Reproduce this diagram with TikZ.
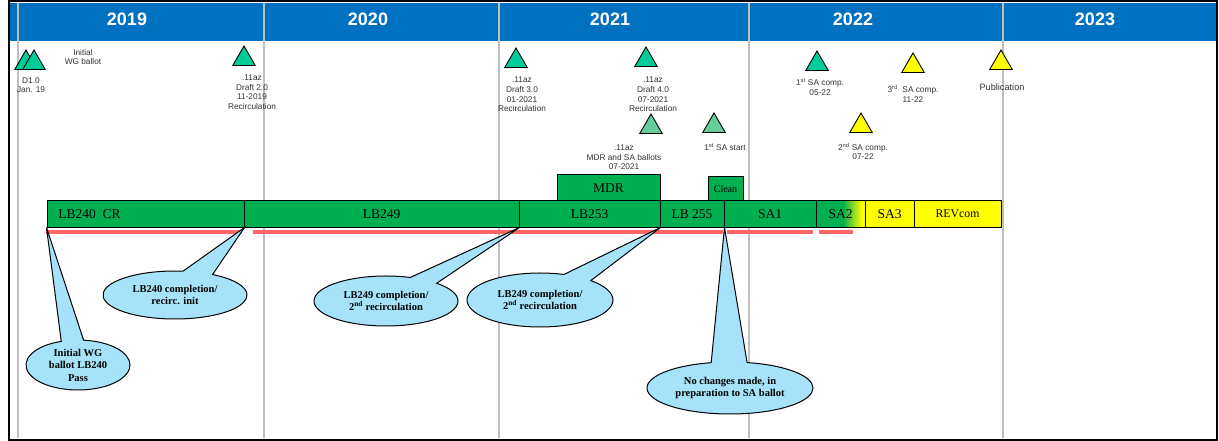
\documentclass[tikz,border=0pt]{standalone}
\usepackage{fontspec}
\setmainfont{Liberation Serif}
\newfontfamily\arialfont{Liberation Sans}
\usepackage{tikz}
\usetikzlibrary{shapes.geometric,shapes.callouts}
\definecolor{hdrblue}{HTML}{0070C0}
\definecolor{gridgray}{HTML}{BFBFBF}
\definecolor{barGreen}{HTML}{00B050}
\definecolor{msTeal}{HTML}{00CC99}
\definecolor{msLight}{HTML}{66CC99}
\definecolor{msYellow}{HTML}{FFFF00}
\definecolor{planRed}{HTML}{FF6666}
\definecolor{bubble}{HTML}{A6E3FA}
\tikzset{
  year/.style={text=white, font=\arialfont\bfseries\fontsize{18}{20}\selectfont},
  lab/.style={text=black!80, align=center, inner sep=0pt, font=\arialfont\fontsize{8.3}{9.6}\selectfont},
  gridLine/.style={draw=gridgray, line width=1.2pt},
  seg/.style={draw=black, line width=1pt, fill=barGreen, minimum height=26, inner sep=0pt, font=\fontsize{13.5}{15}\selectfont},
  segY/.style={seg, fill=msYellow},
  ms/.style={regular polygon, regular polygon sides=3, minimum size=26, inner sep=0pt, draw=black, line width=0.9pt},
  planLine/.style={draw=planRed, line width=4.5pt},
  note/.style={ellipse callout, callout pointer arc=25, draw=black, line width=1pt, fill=bubble, align=center, inner sep=0pt, font=\bfseries\fontsize{10.5}{12.5}\selectfont}
}
\begin{document}
\begin{tikzpicture}[x=1pt, y=-1pt]
\useasboundingbox (0,0) rectangle (1219,441);
% header band with the years
\fill[hdrblue] (10,3) rectangle (1216,41);
\node[year] (y2019) at (127,19) {2019};
\node[year] (y2020) at (368,19) {2020};
\node[year] (y2021) at (610,19) {2021};
\node[year] (y2022) at (853,19) {2022};
\node[year] (y2023) at (1095,19) {2023};
\draw[gridLine] (18,3) -- (18,438);
\draw[gridLine] (264,3) -- (264,438);
\draw[gridLine] (499,3) -- (499,438);
\draw[gridLine] (749,3) -- (749,438);
\draw[gridLine] (1003,3) -- (1003,438);
\draw[line width=2pt] (9,1.5) rectangle (1217,439.5);

% milestones
\node[ms, fill=msTeal] (d1a) at (26,63) {};
\node[ms, fill=msTeal] (d1b) at (34,63) {};
\node[lab] (d1) at (31,85) {D1.0\\Jan. 19};
\node[lab] (wgb) at (83,57) {Initial\\WG ballot};
\node[ms, fill=msTeal] (dr2) at (244,59) {};
\node[lab] (dr2t) at (252,92) {.11az\\Draft 2.0\\11-2019\\Recirculation};
\node[ms, fill=msTeal] (dr3) at (516,61) {};
\node[lab] (dr3t) at (522,94.5) {.11az\\Draft 3.0\\01-2021\\Recirculation};
\node[ms, fill=msTeal] (dr4) at (646,60) {};
\node[lab] (dr4t) at (653,94.5) {.11az\\Draft 4.0\\07-2021\\Recirculation};
\node[ms, fill=msLight] (mdrb) at (651,127) {};
\node[lab] (mdrbt) at (624,157.5) {.11az\\MDR and SA ballots\\07-2021};
\node[ms, fill=msLight] (sas) at (714,126) {};
\node[lab] (sast) at (725,147) {1\textsuperscript{st} SA start};
\node[ms, fill=msTeal] (sa1c) at (817,64) {};
\node[lab] (sa1ct) at (820,87) {1\textsuperscript{st} SA comp.\\05-22};
\node[ms, fill=msYellow] (sa2c) at (861,126) {};
\node[lab] (sa2ct) at (863,151.5) {2\textsuperscript{nd} SA comp.\\07-22};
\node[ms, fill=msYellow] (sa3c) at (913,66) {};
\node[lab] (sa3ct) at (913,94) {3\textsuperscript{rd}\ \ SA comp.\\11-22};
\node[ms, fill=msYellow] (pub) at (1001,63) {};
\node[lab, font=\arialfont\fontsize{9.2}{11}\selectfont] (pubt) at (1002,87) {Publication};

% ballot bar
\node[seg, minimum width=197] (lb240) at (145.5,214) {};
\node[font=\fontsize{13.5}{15}\selectfont, inner sep=0pt] (lb240t) at (89.5,214) {LB240\ \ CR};
\node[seg, minimum width=275] (lb249) at (381.5,214) {LB249};
\node[seg, minimum width=141] (lb253) at (589.5,214) {LB253};
\node[seg, minimum width=64] (lb255) at (692,214) {LB 255};
\node[seg, minimum width=92] (sa1) at (770,214) {SA1};
\fill[barGreen] (816,201) rectangle (843,227);
\shade[left color=barGreen, right color=msYellow] (843,201) rectangle (862,227);
\fill[msYellow] (862,201) rectangle (865,227);
\node[seg, fill=none, minimum width=49] (sa2) at (840.5,214) {SA2};
\node[segY, minimum width=49] (sa3) at (889.5,214) {SA3};
\node[segY, minimum width=87, font=\fontsize{11.8}{13}\selectfont] (revcom) at (957.5,214) {REVcom};
\node[seg, minimum width=103] (mdr) at (608.5,188) {MDR};
\node[seg, minimum width=35, minimum height=24, font=\fontsize{10}{12}\selectfont] (clean) at (725.5,189) {Clean};

% planned spans
\draw[planLine] (46,232) -- (242,232);
\draw[planLine] (253,232) -- (723,232);
\draw[planLine] (727,232) -- (813,232);
\draw[planLine] (819,232) -- (853,232);

% call-outs
\node[note, minimum width=104, minimum height=50, callout absolute pointer={(lb240.south west)}] (c1) at (78,365) {Initial WG\\ballot LB240\\Pass};
\node[note, minimum width=144, minimum height=48, callout absolute pointer={(lb240.south east)}] (c2) at (175,295) {LB240 completion/\\recirc. init};
\node[note, minimum width=144, minimum height=50, callout absolute pointer={(lb249.south east)}] (c3) at (386,301) {LB249 completion/\\2\textsuperscript{nd} recirculation};
\node[note, minimum width=146, minimum height=54, callout absolute pointer={(lb253.south east)}] (c4) at (540,300) {LB249 completion/\\2\textsuperscript{nd} recirculation};
\node[note, minimum width=166, minimum height=52, callout absolute pointer={(lb255.south east)}] (c5) at (730,388) {No changes made, in\\preparation to SA ballot};
\end{tikzpicture}
\end{document}
